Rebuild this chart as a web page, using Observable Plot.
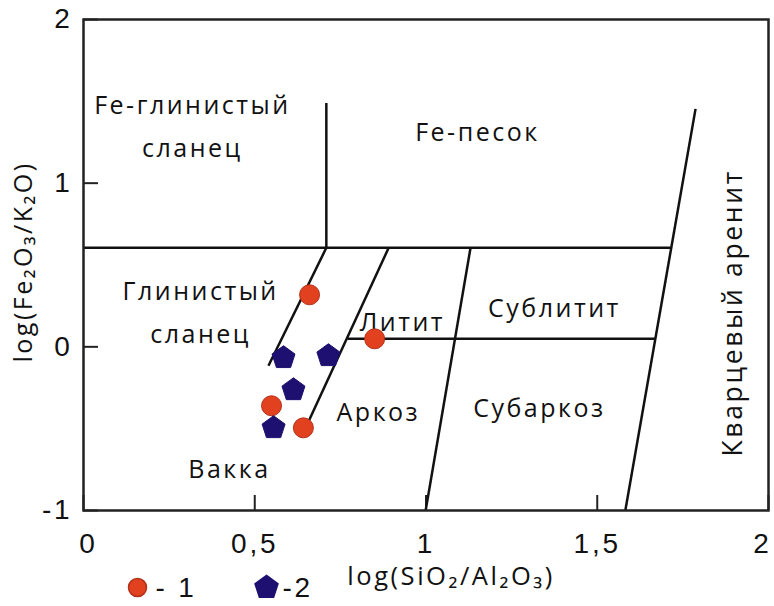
<!DOCTYPE html>
<html>
<head>
<meta charset="utf-8">
<script src="https://cdn.jsdelivr.net/npm/d3@7"></script>
<script src="https://cdn.jsdelivr.net/npm/@observablehq/plot@0.6"></script>
<style>
  body { margin: 0; background: #fff; }
  #chart svg { display: block; }
  #chart svg text { letter-spacing: 0.1em; }
</style>
</head>
<body>
<div id="chart"></div>
<script>
// Herron diagram: log(SiO2/Al2O3) vs log(Fe2O3/K2O)
const xTicks = [0, 0.5, 1, 1.5, 2];
const yTicks = [-1, 0, 1, 2];

// Field boundaries as [x1, y1, x2, y2]
const boundaries = [
  [0, 0.605, 1.714, 0.605],
  [0.709, 0.605, 0.709, 1.49],
  [0.709, 0.605, 0.540, -0.116],
  [0.891, 0.605, 0.654, -0.47],
  [0.771, 0.049, 1.670, 0.049],
  [1.130, 0.605, 0.999, -1],
  [1.787, 1.454, 1.582, -1]
];

// Field names and their label anchors
const fieldNames = ["Fe-глинистый\nсланец", "Fe-песок", "Глинистый\nсланец", "Литит", "Сублитит", "Аркоз", "Субаркоз", "Вакка"];
const fieldX = [0.318, 1.150, 0.342, 0.931, 1.375, 0.861, 1.331, 0.426];
const fieldY = [1.375, 1.338, 0.238, 0.177, 0.263, -0.367, -0.348, -0.721];
const quartzName = "Кварцевый аренит";
const quartzX = 1.898;
const quartzY = 0.208;

// Samples, group 1 (circles) and group 2 (pentagons)
const group1X = [0.660, 0.850, 0.549, 0.642];
const group1Y = [0.318, 0.049, -0.360, -0.495];
const group2X = [0.584, 0.715, 0.613, 0.555];
const group2Y = [-0.067, -0.055, -0.263, -0.495];

const legendLabels = ["- 1", "-2"];

const red = "#e2411f";
const navy = "#1e1070";

// Regular pentagon with a vertex on top
const pentagon = {
  draw(context, size) {
    const R = Math.sqrt(size / 2.3776);
    for (let i = 0; i < 5; i++) {
      const a = -Math.PI / 2 + i * 2 * Math.PI / 5;
      const px = R * Math.cos(a), py = R * Math.sin(a);
      if (i) context.lineTo(px, py); else context.moveTo(px, py);
    }
    context.closePath();
  }
};

const lines = boundaries.map(([x1, y1, x2, y2]) => ({x1, y1, x2, y2}));
const fields = fieldNames.map((name, i) => ({name, x: fieldX[i], y: fieldY[i]}));
const g1 = group1X.map((x, i) => ({x, y: group1Y[i]}));
const g2 = group2X.map((x, i) => ({x, y: group2Y[i]}));

const W = 774, H = 606;
const mL = 83, mR = 6, mT = 19, mB = 96;
const frameW = W - mL - mR, frameH = H - mT - mB;
const tickLen = 15;
const labelFont = "'Open Sans', sans-serif";
const fmt = d => String(d).replace(".", ",");
const innerX = xTicks.slice(1, -1);

const chart = Plot.plot({
  width: W,
  height: H,
  marginLeft: mL,
  marginRight: mR,
  marginTop: mT,
  marginBottom: mB,
  style: {fontFamily: "'Liberation Sans', Arial, sans-serif", color: "#111", background: "#fff"},
  x: {domain: [0, 2]},
  y: {domain: [-1, 2]},
  marks: [
    // inward ticks
    Plot.ruleX(xTicks, {stroke: "#222", strokeWidth: 2, insetTop: frameH - tickLen}),
    Plot.ruleY(yTicks, {stroke: "#222", strokeWidth: 2, insetRight: frameW - tickLen}),
    // tick labels; the end labels sit slightly inside the frame corners
    Plot.axisX(innerX, {tickSize: 0, tickPadding: 23, fontSize: 28, label: null, tickFormat: fmt}),
    Plot.axisX(xTicks.slice(0, 1), {tickSize: 0, tickPadding: 23, fontSize: 28, label: null, tickFormat: fmt, dx: 5}),
    Plot.axisX(xTicks.slice(-1), {tickSize: 0, tickPadding: 23, fontSize: 28, label: null, tickFormat: fmt, dx: -6}),
    Plot.axisY(yTicks, {tickSize: 0, tickPadding: 11, fontSize: 28, label: null,
      tickFormat: d => String(d)}),
    // field boundaries
    Plot.link(lines, {x1: "x1", y1: "y1", x2: "x2", y2: "y2", stroke: "#111", strokeWidth: 2.5}),
    Plot.frame({stroke: "#222", strokeWidth: 2.5}),
    // field names
    Plot.text(fields, {x: "x", y: "y", text: "name", fontSize: 25, lineHeight: 1.7,
      fontFamily: labelFont, fill: "#111"}),
    Plot.text([quartzName], {x: () => quartzX, y: () => quartzY, text: d => d, rotate: -90,
      fontSize: 26.5, fontFamily: labelFont, fill: "#111"}),
    // samples
    Plot.dot(g1, {x: "x", y: "y", r: 10, fill: red, stroke: "#b3301a", strokeWidth: 1}),
    Plot.dot(g2, {x: "x", y: "y", r: 10.5, symbol: pentagon, fill: navy, stroke: navy, strokeWidth: 1}),
    // axis titles
    Plot.text(["log(SiO₂/Al₂O₃)"], {frameAnchor: "bottom", dx: 25, dy: 66, text: d => d,
      textAnchor: "middle", lineAnchor: "middle", fontSize: 25.5, fontFamily: labelFont, fill: "#111"}),
    Plot.text(["log(Fe₂O₃/K₂O)"], {frameAnchor: "left", dx: -60, dy: -3, rotate: -90, text: d => d,
      textAnchor: "middle", lineAnchor: "middle", fontSize: 25, fontFamily: labelFont, fill: "#111"}),
    // legend
    Plot.dot([legendLabels[0]], {frameAnchor: "bottom-left", dx: 54, dy: 77, r: 9, fill: red, stroke: "#b3301a"}),
    Plot.text([legendLabels[0]], {frameAnchor: "bottom-left", dx: 72, dy: 78, text: d => d,
      textAnchor: "start", lineAnchor: "middle", fontSize: 28, fill: "#111"}),
    Plot.dot([legendLabels[1]], {frameAnchor: "bottom-left", dx: 183, dy: 77, r: 10.5, symbol: pentagon, fill: navy, stroke: navy}),
    Plot.text([legendLabels[1]], {frameAnchor: "bottom-left", dx: 199, dy: 78, text: d => d,
      textAnchor: "start", lineAnchor: "middle", fontSize: 28, fill: "#111"})
  ]
});

document.getElementById("chart").appendChild(chart);
</script>
</body>
</html>
